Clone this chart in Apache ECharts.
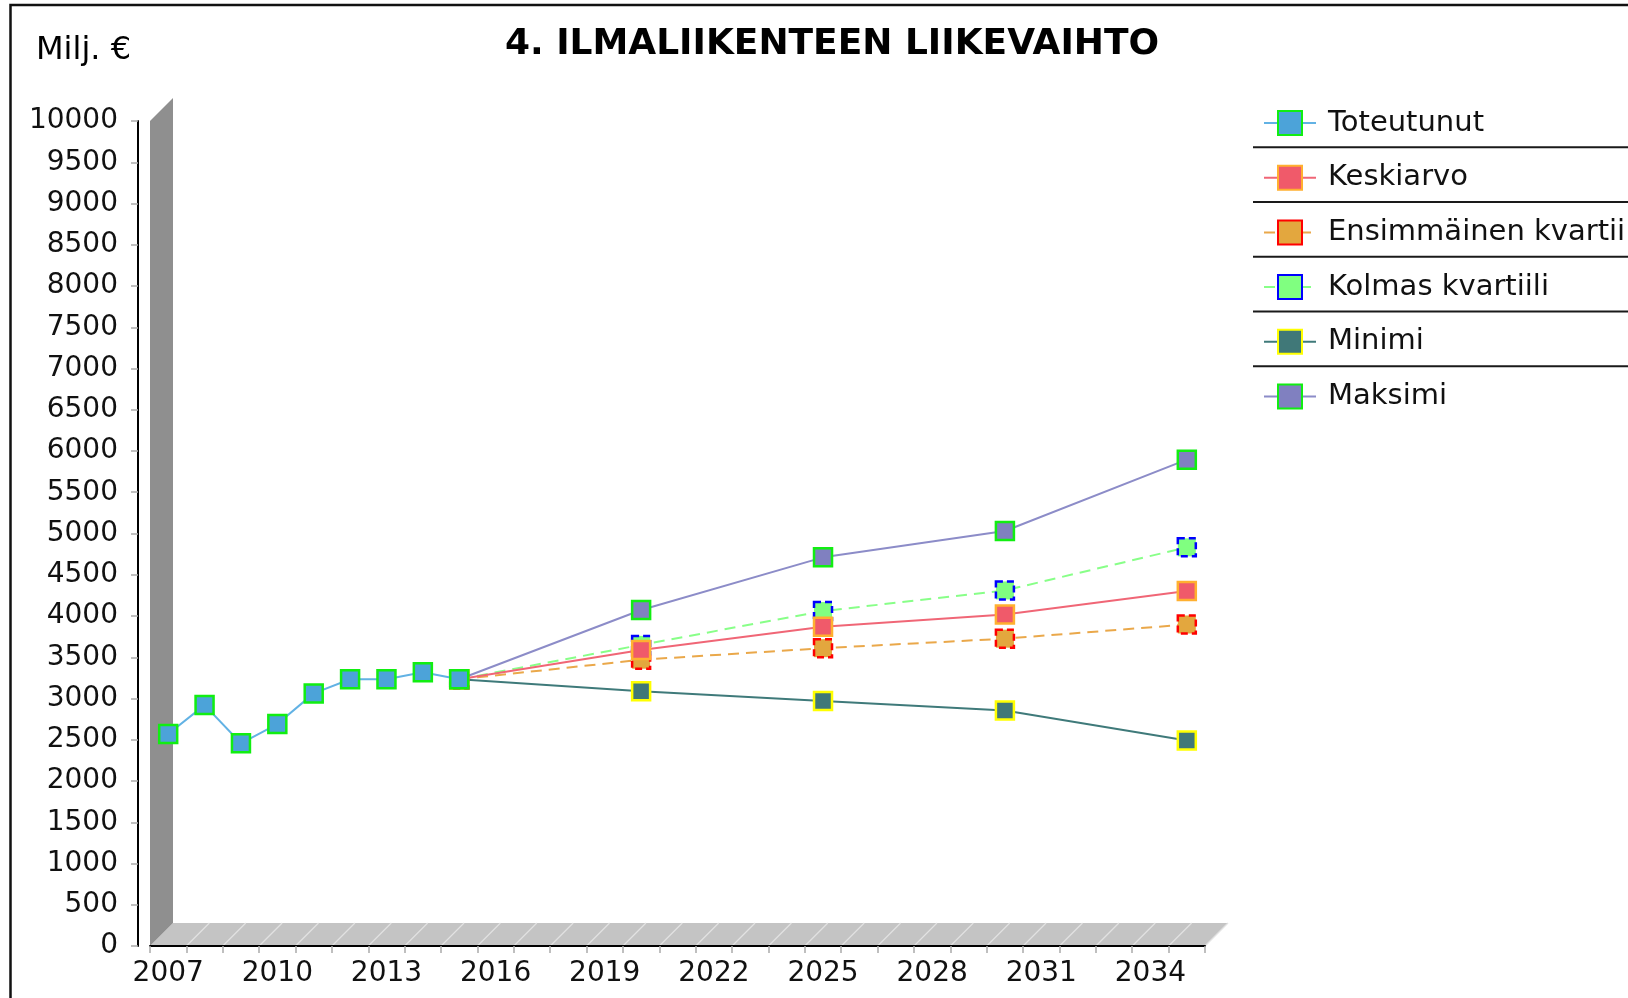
<!DOCTYPE html>
<html><head><meta charset="utf-8">
<script src="https://cdn.jsdelivr.net/npm/echarts@6/dist/echarts.min.js"></script>
<style>html,body{margin:0;padding:0;background:#fff}#c{width:1628px;height:998px}</style>
</head><body><div id="c"></div>
<script>
// ---- data ----
const years = ['2007','2008','2009','2010','2011','2012','2013','2014','2015','2016','2017','2018','2019','2020','2021','2022','2023','2024','2025','2026','2027','2028','2029','2030','2031','2032','2033','2034','2035'];
const actualYears = ['2007','2008','2009','2010','2011','2012','2013','2014','2015'];
const toteutunut = [2570, 2920, 2457, 2690, 3062, 3233, 3233, 3318, 3233];
const forecastYears = ['2015','2020','2025','2030','2035'];
const keskiarvo   = [3233, 3588, 3870, 4018, 4303];
const ensimmainen = [3233, 3470, 3610, 3725, 3897];
const kolmas      = [3233, 3650, 4060, 4310, 4832];
const minimi      = [3233, 3087, 2970, 2855, 2492];
const maksimi     = [3233, 4073, 4711, 5030, 5895];
const seriesNames = ['Toteutunut','Keskiarvo','Ensimmäinen kvartiili','Kolmas kvartiili','Minimi','Maksimi'];
const yMin = 0, yMax = 10000, yStep = 500;
const titleText = '4. ILMALIIKENTEEN LIIKEVAIHTO';
const unitText = 'Milj. €';

// ---- helpers ----
const pairs = (xs, vs) => xs.map((x, i) => [x, vs[i]]);
const FONT = 'DejaVu Sans';
const DEPTH = 23;

const chart = echarts.init(document.getElementById('c'), null, {renderer: 'canvas'});

function mkSeries(name, xs, vs, lineColor, fill, border, dashed, z) {
  return {
    name: name, type: 'line', data: pairs(xs, vs), connectNulls: true,
    symbol: 'rect', symbolSize: 18, z: z,
    lineStyle: {color: lineColor, width: 2, type: dashed ? [11, 7] : 'solid'},
    itemStyle: {color: fill, borderColor: border, borderWidth: 2.5, borderType: dashed ? [7, 4] : 'solid', opacity: 1},
    emphasis: {disabled: true}, animation: false
  };
}

// legend layout constants
const LEG_TOP = 105, LEG_ITEM_H = 30, LEG_SPACING = 54.7;
const sepLines = [];
for (let i = 0; i < seriesNames.length - 1; i++) {
  const y = LEG_TOP + LEG_ITEM_H / 2 + LEG_SPACING * i + LEG_SPACING / 2;
  sepLines.push({type: 'line', shape: {x1: 1253, y1: y, x2: 1640, y2: y}, style: {stroke: '#1a1a1a', lineWidth: 2}, silent: true});
}

const option = {
  backgroundColor: '#fff',
  animation: false,
  textStyle: {fontFamily: FONT},
  grid: {left: 150, right: 423, top: 121, bottom: 52, containLabel: false},
  xAxis: {
    type: 'category', data: years, boundaryGap: true,
    axisLine: {show: true, lineStyle: {color: '#000', width: 2}},
    axisTick: {show: true, interval: 0, length: 7, lineStyle: {color: '#aaa', width: 1.5}},
    axisLabel: {interval: 2, fontSize: 28, color: '#111', margin: 14, fontFamily: FONT},
    splitLine: {show: false}
  },
  yAxis: {
    type: 'value', min: yMin, max: yMax, interval: yStep, offset: 12,
    axisLine: {show: true, lineStyle: {color: '#000', width: 2}},
    axisTick: {show: true, length: 7, lineStyle: {color: '#aaa', width: 1.5}},
    axisLabel: {fontSize: 28, color: '#111', margin: 20, fontFamily: FONT, formatter: v => String(v)},
    splitLine: {show: false}
  },
  legend: {
    orient: 'vertical', left: 1263, top: LEG_TOP + 3, padding: 0,
    data: seriesNames,
    itemWidth: 52, itemHeight: LEG_ITEM_H, itemGap: LEG_SPACING - LEG_ITEM_H,
    textStyle: {fontSize: 29, color: '#111', fontFamily: FONT, padding: [0, 0, 0, 7], lineHeight: 30},
    selectedMode: false
  },
  graphic: [
    {type: 'rect', shape: {x: 10.5, y: 5, width: 1700, height: 1100}, style: {fill: 'none', stroke: '#111', lineWidth: 2.5}, silent: true, z: 100},
    {type: 'text', x: 832, y: 45, style: {text: titleText, align: 'center', verticalAlign: 'middle', fontSize: 36, fontWeight: 'bold', fontFamily: FONT, fill: '#000'}, silent: true},
    {type: 'text', x: 36, y: 51, style: {text: unitText, align: 'left', verticalAlign: 'middle', fontSize: 32, fontFamily: FONT, fill: '#000'}, silent: true}
  ].concat(sepLines),
  series: [
    {
      type: 'custom', name: '_3d', clip: false, silent: true, z: 0,
      data: [[0, 0]],
      renderItem: function (params, api) {
        const first = api.coord([0, yMin]);
        const last = api.coord([years.length - 1, yMin]);
        const top = api.coord([0, yMax]);
        const bw = api.size([1, 0])[0];
        const xl = first[0] - bw / 2, xr = last[0] + bw / 2;
        const y0 = first[1], yt = top[1], d = DEPTH;
        const children = [
          {type: 'polygon', shape: {points: [[xl, y0], [xl + d, y0 - d], [xr + d, y0 - d], [xr, y0]]}, style: {fill: '#c4c4c4'}},
          {type: 'polygon', shape: {points: [[xl, yt], [xl + d, yt - d], [xl + d, y0 - d], [xl, y0]]}, style: {fill: '#8f8f8f'}}
        ];
        for (let i = 1; i <= years.length; i++) {
          const x = xl + bw * i;
          children.push({type: 'line', shape: {x1: x, y1: y0, x2: x + d, y2: y0 - d}, style: {stroke: '#e2e2e2', lineWidth: 1.2}});
        }
        return {type: 'group', children: children};
      }
    },
    mkSeries('Maksimi', forecastYears, maksimi, '#8c8cc8', '#8080c0', '#11ee11', false, 3),
    mkSeries('Minimi', forecastYears, minimi, '#3f7a7a', '#407878', '#ffff00', false, 4),
    mkSeries('Kolmas kvartiili', forecastYears, kolmas, '#88ff88', '#80ff80', '#0000ff', true, 5),
    mkSeries('Ensimmäinen kvartiili', forecastYears, ensimmainen, '#eaa84a', '#e3a73e', '#ff0000', true, 6),
    mkSeries('Keskiarvo', forecastYears, keskiarvo, '#f06676', '#f05a6a', '#ffb030', false, 7),
    mkSeries('Toteutunut', actualYears, toteutunut, '#62b2e4', '#4ca3d9', '#11ee11', false, 8)
  ]
};
chart.setOption(option);
</script>
</body></html>
